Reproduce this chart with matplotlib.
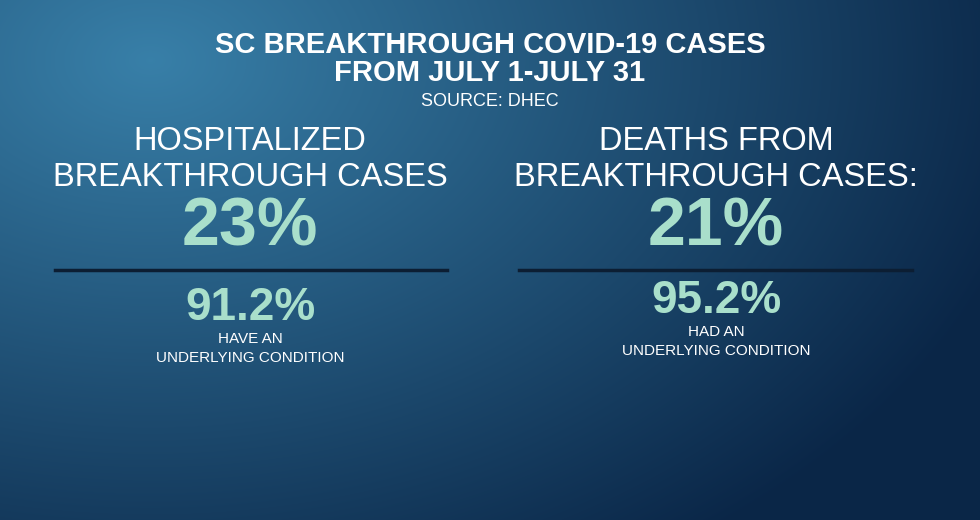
import numpy as np
import matplotlib
matplotlib.use("Agg")
import matplotlib.pyplot as plt

title_lines = ["SC BREAKTHROUGH COVID-19 CASES", "FROM JULY 1-JULY 31"]
source = "SOURCE: DHEC"
panel_labels = [["HOSPITALIZED", "BREAKTHROUGH CASES"], ["DEATHS FROM", "BREAKTHROUGH CASES:"]]
main_values = ["23%", "21%"]
sub_values = ["91.2%", "95.2%"]
sub_labels = [["HAVE AN", "UNDERLYING CONDITION"], ["HAD AN", "UNDERLYING CONDITION"]]

W, H = 980, 520
fig = plt.figure(figsize=(9.8, 5.2), dpi=100)
ax = fig.add_axes([0, 0, 1, 1])
ax.set_xlim(0, W); ax.set_ylim(H, 0); ax.axis("off")

yy, xx = np.mgrid[0:H, 0:W]
d = np.sqrt(((xx - 150) / 900) ** 2 + ((yy - 60) / 600) ** 2)
t = np.clip(d, 0, 1)[..., None]
c0 = np.array([0.22, 0.50, 0.66]); c1 = np.array([0.04, 0.15, 0.28])
img = c0 * (1 - t) + c1 * t
ax.imshow(img, extent=[0, W, H, 0], aspect="auto", zorder=0)

F = "Liberation Sans"
teal = "#a9dfcb"
ax.text(490, 45, title_lines[0], ha="center", va="center", color="white", fontsize=21, fontweight="bold", family=F)
ax.text(490, 73, title_lines[1], ha="center", va="center", color="white", fontsize=21, fontweight="bold", family=F)
ax.text(490, 101, source, ha="center", va="center", color="white", fontsize=13, family=F)

centers = [250, 716]
lines = [(55, 447), (519, 912)]
subys = [308, 301]
for i, cx in enumerate(centers):
    ax.text(cx, 142, panel_labels[i][0], ha="center", va="center", color="white", fontsize=23.5, family=F)
    ax.text(cx, 178, panel_labels[i][1], ha="center", va="center", color="white", fontsize=23.5, family=F)
    ax.text(cx, 228, main_values[i], ha="center", va="center", color=teal, fontsize=49, fontweight="bold", family=F)
    ax.plot(lines[i], [270, 270], color="#0c1e33", lw=2.5)
    sy = subys[i]
    ax.text(cx, sy, sub_values[i], ha="center", va="center", color=teal, fontsize=33, fontweight="bold", family=F)
    ax.text(cx, sy + 31, sub_labels[i][0], ha="center", va="center", color="white", fontsize=11, family=F)
    ax.text(cx, sy + 50, sub_labels[i][1], ha="center", va="center", color="white", fontsize=11, family=F)

fig.savefig("out.png", dpi=100)
